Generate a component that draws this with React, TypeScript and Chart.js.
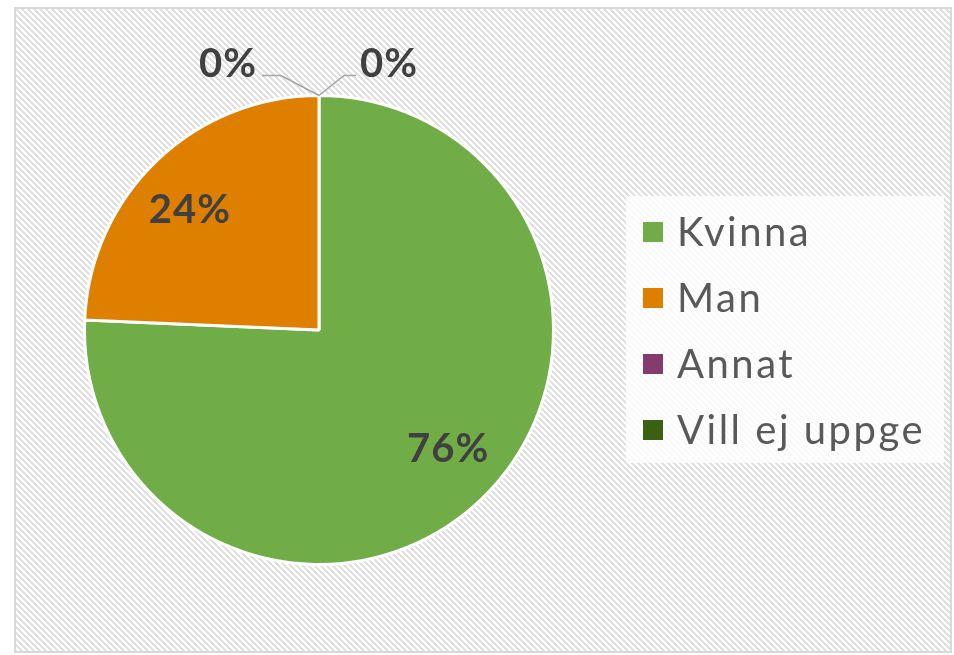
import React, { useEffect, useRef } from "react";
import { Chart, registerables } from "chart.js";

Chart.register(...registerables);

const categories: string[] = ["Kvinna", "Man", "Annat", "Vill ej uppge"];
const values: number[] = [28, 9, 0, 0];
const colors: string[] = ["#70AD47", "#DF7F00", "#843C6C", "#3B6012"];

const LABEL_FONT = "bold 40px Lato";
const LEGEND_FONT = "40px Lato";

function makePattern(ctx: CanvasRenderingContext2D): CanvasPattern | string {
  const N = 6;
  const c = document.createElement("canvas");
  c.width = N;
  c.height = N;
  const g = c.getContext("2d");
  if (!g) return "#eeeeee";
  const img = g.createImageData(N, N);
  for (let y = 0; y < N; y++) {
    for (let x = 0; x < N; x++) {
      const k = (((x - y) % N) + N) % N;
      const gray = k < 3 ? 224 : 255;
      const idx = (y * N + x) * 4;
      img.data[idx] = gray;
      img.data[idx + 1] = gray;
      img.data[idx + 2] = gray;
      img.data[idx + 3] = 255;
    }
  }
  g.putImageData(img, 0, 0);
  return ctx.createPattern(c, "repeat") || "#eeeeee";
}

const backgroundPlugin = {
  id: "bgPattern",
  beforeDraw(chart: any) {
    const ctx: CanvasRenderingContext2D = chart.ctx;
    ctx.save();
    ctx.fillStyle = "#ffffff";
    ctx.fillRect(0, 0, chart.width, chart.height);
    ctx.fillStyle = makePattern(ctx) as any;
    ctx.fillRect(15, 8, 936, 644);
    ctx.strokeStyle = "#d9d9d9";
    ctx.lineWidth = 2;
    ctx.strokeRect(15, 8, 936, 644);
    // legend background (semi-transparent)
    ctx.fillStyle = "rgba(255,255,255,0.8)";
    ctx.fillRect(626, 196, 318, 267);
    ctx.restore();
  },
};

const labelPlugin = {
  id: "sliceLabels",
  afterDatasetsDraw(chart: any) {
    const ctx: CanvasRenderingContext2D = chart.ctx;
    const data: number[] = chart.data.datasets[0].data;
    const total = data.reduce((a, b) => a + b, 0);
    const meta = chart.getDatasetMeta(0);
    let zeroCount = 0;
    ctx.save();
    ctx.font = LABEL_FONT;
    (ctx as any).letterSpacing = "1px";
    ctx.fillStyle = "#404040";
    ctx.textAlign = "center";
    ctx.textBaseline = "middle";
    meta.data.forEach((arc: any, i: number) => {
      const v = data[i];
      const pct = Math.round((v / total) * 100) + "%";
      const p = arc.getProps(["x", "y", "startAngle", "endAngle", "outerRadius"], true);
      const mid = (p.startAngle + p.endAngle) / 2 - 0.06;
      if (v > 0) {
        const r = p.outerRadius * 0.75;
        ctx.fillText(pct, p.x + Math.cos(mid) * r, p.y + Math.sin(mid) * r);
      } else {
        const a = (p.startAngle + p.endAngle) / 2;
        const ex = p.x + Math.cos(a) * p.outerRadius;
        const ey = p.y + Math.sin(a) * p.outerRadius;
        const left = zeroCount === 0;
        zeroCount++;
        const dx = left ? -38 : 25;
        const hx = left ? -57 : 37;
        ctx.strokeStyle = "#a6a6a6";
        ctx.lineWidth = 1.5;
        ctx.beginPath();
        ctx.moveTo(ex, ey);
        ctx.lineTo(ex + dx, ey - 20);
        ctx.lineTo(ex + hx, ey - 20);
        ctx.stroke();
        const tx = left ? ex - 91 : ex + 70;
        ctx.fillText(pct, tx, ey - 31);
      }
    });
    ctx.restore();
  },
};

const legendPlugin = {
  id: "customLegend",
  afterDraw(chart: any) {
    const ctx: CanvasRenderingContext2D = chart.ctx;
    const labels: string[] = chart.data.labels;
    const bg: string[] = chart.data.datasets[0].backgroundColor;
    ctx.save();
    ctx.font = LEGEND_FONT;
    (ctx as any).letterSpacing = "2.5px";
    ctx.textAlign = "left";
    ctx.textBaseline = "middle";
    labels.forEach((lab, i) => {
      const cy = 232 + i * 66;
      ctx.fillStyle = bg[i];
      ctx.fillRect(643, cy - 10, 20, 20);
      ctx.fillStyle = "#595959";
      ctx.fillText(lab, 677, cy + 1);
    });
    ctx.restore();
  },
};

export default function App() {
  const ref = useRef<HTMLCanvasElement | null>(null);
  useEffect(() => {
    if (!ref.current) return;
    const chart = new Chart(ref.current, {
      type: "pie",
      data: {
        labels: categories,
        datasets: [
          {
            data: values,
            backgroundColor: colors,
            borderColor: "#ffffff",
            borderWidth: 3,
          },
        ],
      },
      options: {
        responsive: false,
        animation: false,
        layout: { padding: { left: 83, right: 399, top: 94, bottom: 89 } },
        plugins: {
          legend: { display: false },
          tooltip: { enabled: false },
        },
      },
      plugins: [backgroundPlugin, labelPlugin, legendPlugin],
    });
    return () => chart.destroy();
  }, []);
  return (
    <div style={{ position: "fixed", left: 0, top: 0, width: 954, height: 655 }}>
      <canvas ref={ref} width={954} height={655} style={{ display: "block" }} />
    </div>
  );
}
